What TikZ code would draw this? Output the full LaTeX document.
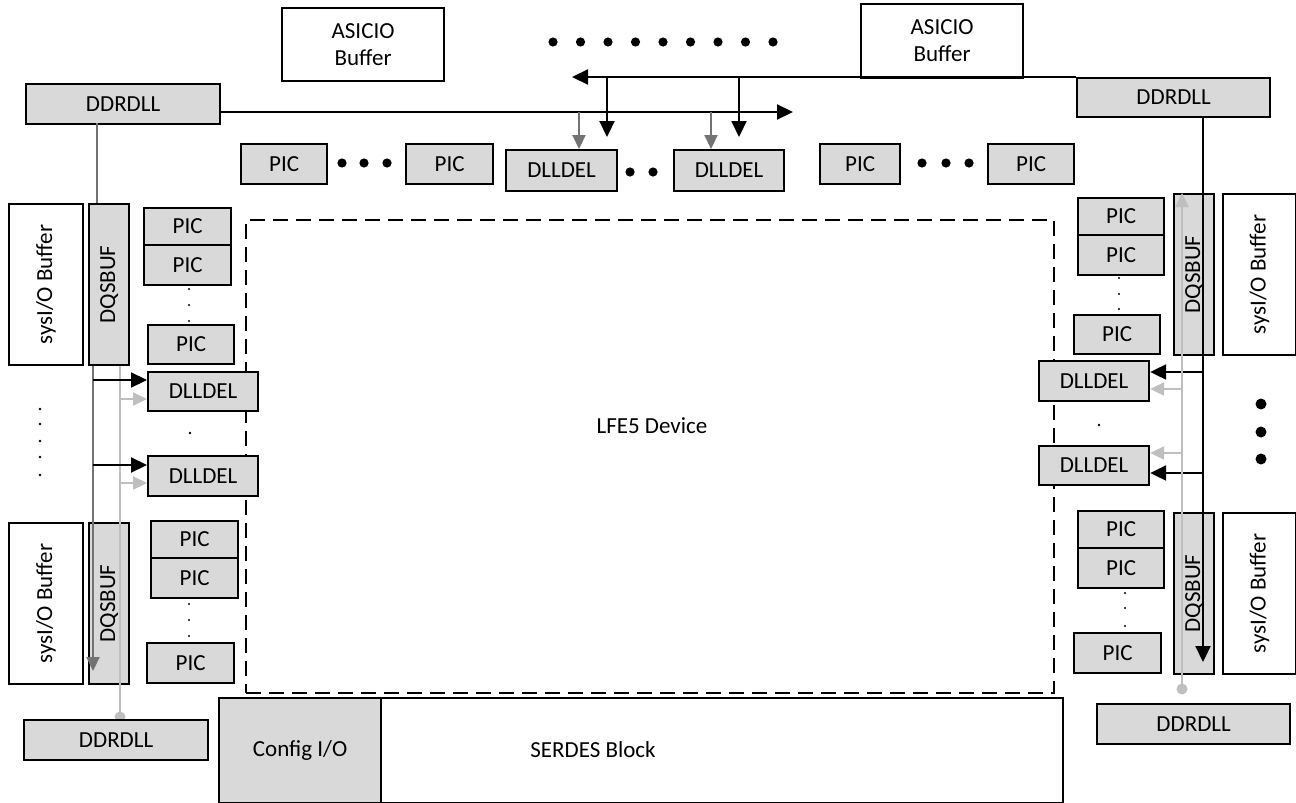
\documentclass[tikz,border=0pt]{standalone}
\usepackage{fontspec}
\setmainfont{Carlito}
\usepackage{graphicx}
\usetikzlibrary{arrows.meta,calc}
\definecolor{boxgray}{HTML}{D9D9D9}
\definecolor{dgray}{HTML}{737373}
\definecolor{lgray}{HTML}{BFBFBF}
\tikzset{
  base/.style={draw=black,line width=2.2pt,inner sep=0pt,anchor=north west,font=\fontsize{23}{27}\selectfont,align=center},
  gbox/.style={base,fill=boxgray},
  wbox/.style={base,fill=white},
  lbl/.style={inner sep=0pt,font=\fontsize{23}{27}\selectfont},
  blk/.style={line width=2.2pt,draw=black},
  blkarr/.style={blk,-{Triangle[length=16pt,width=15pt]}},
  dg/.style={line width=2.2pt,draw=dgray},
  dgarr/.style={dg,-{Triangle[length=14pt,width=13pt]}},
  lg/.style={line width=2.2pt,draw=lgray},
  lgarr/.style={lg,-{Triangle[length=14pt,width=13pt]}},
  dashbox/.style={draw=black,line width=2.2pt,dash pattern=on 15pt off 8pt,inner sep=0pt,anchor=north west},
}
\newcommand\bx[7]{\node[#1,minimum width={#4pt-#2pt},minimum height={#5pt-#3pt}] (#6) at (#2,#3) {#7};}
\begin{document}
\begin{tikzpicture}[x=1pt,y=-1pt]
\useasboundingbox[fill=white] (0,0) rectangle (1296,803);

% dashed device outline
\node[dashbox,minimum width=808pt,minimum height=473pt] (lfe) at (245,219) {};
\node[lbl] (lfeT) at (652,426) {LFE5 Device};

% light gray dot under lower-left DDRDLL
\coordinate (lgS) at (120,717);
\fill[lgray] (lgS) circle (5.5);

% top
\bx{wbox}{281}{7}{443}{80}{asicL}{ASICIO\\Buffer}
\bx{wbox}{860}{3}{1022}{77}{asicR}{ASICIO\\Buffer}
\bx{gbox}{25}{83}{219}{123}{ddrTL}{DDRDLL}
\bx{gbox}{1076}{77}{1269}{116}{ddrTR}{DDRDLL}
\bx{gbox}{240}{143}{326}{183}{picT1}{PIC}
\bx{gbox}{405}{143}{492}{183}{picT2}{PIC}
\bx{gbox}{505}{149}{616}{190}{dlT1}{DLLDEL}
\bx{gbox}{673}{149}{783}{190}{dlT2}{DLLDEL}
\bx{gbox}{819}{143}{899}{183}{picT3}{PIC}
\bx{gbox}{987}{143}{1073}{183}{picT4}{PIC}

% left column
\bx{wbox}{8}{203}{82}{364}{sysL1}{\rotatebox{90}{sysI/O Buffer}}
\bx{gbox}{88}{203}{128}{364}{dqsL1}{\rotatebox{90}{DQSBUF}}
\bx{gbox}{143}{207}{230}{244}{picL1}{PIC}
\bx{gbox}{143}{244}{230}{284}{picL2}{PIC}
\bx{gbox}{147}{324}{233}{363}{picL3}{PIC}
\bx{gbox}{147}{371}{257}{410}{dlL1}{DLLDEL}
\bx{gbox}{147}{455}{257}{495}{dlL2}{DLLDEL}
\bx{wbox}{8}{522}{82}{683}{sysL2}{\rotatebox{90}{sysI/O Buffer}}
\bx{gbox}{88}{522}{128}{683}{dqsL2}{\rotatebox{90}{DQSBUF}}
\bx{gbox}{150}{520}{237}{557}{picL4}{PIC}
\bx{gbox}{150}{557}{237}{597}{picL5}{PIC}
\bx{gbox}{146}{642}{233}{682}{picL6}{PIC}
\bx{gbox}{23}{719}{207}{759}{ddrBL}{DDRDLL}

% right column
\bx{gbox}{1077}{197}{1163}{234}{picR1}{PIC}
\bx{gbox}{1077}{234}{1163}{274}{picR2}{PIC}
\bx{gbox}{1073}{314}{1159}{353}{picR3}{PIC}
\bx{gbox}{1173}{193}{1213}{354}{dqsR1}{\rotatebox{90}{DQSBUF}}
\bx{wbox}{1222}{193}{1295}{354}{sysR1}{\rotatebox{90}{sysI/O Buffer}}
\bx{gbox}{1038}{360}{1148}{400}{dlR1}{DLLDEL}
\bx{gbox}{1038}{445}{1148}{484}{dlR2}{DLLDEL}
\bx{gbox}{1077}{510}{1163}{547}{picR4}{PIC}
\bx{gbox}{1077}{547}{1163}{587}{picR5}{PIC}
\bx{gbox}{1073}{632}{1160}{672}{picR6}{PIC}
\bx{gbox}{1173}{512}{1213}{673}{dqsR2}{\rotatebox{90}{DQSBUF}}
\bx{wbox}{1222}{512}{1295}{673}{sysR2}{\rotatebox{90}{sysI/O Buffer}}
\bx{gbox}{1096}{703}{1289}{743}{ddrBR}{DDRDLL}

% bottom
\bx{gbox}{218}{697}{380}{802}{cfg}{Config I/O}
\bx{wbox}{380}{697}{1062}{802}{serdes}{}
\node[lbl] (serdesT) at (593,750) {SERDES Block};

% top connectors
\coordinate (tR) at (793,112);
\draw[blkarr] (ddrTL.east |- tR) -- (tR);
\coordinate (tL) at (572,77);
\draw[blkarr] (ddrTR.north west) -- (tL);
\coordinate (b1) at (607,77);
\coordinate (b1e) at (607,137);
\coordinate (b2) at (739,77);
\coordinate (b2e) at (739,137);
\draw[blkarr] (b1) -- (b1e);
\draw[blkarr] (b2) -- (b2e);
\coordinate (g1) at (579,112);
\coordinate (g2) at (711,112);
\draw[dgarr] (g1) -- (g1 |- dlT1.north);
\draw[dgarr] (g2) -- (g2 |- dlT2.north);

% left connectors
\coordinate (ldA) at (97,123);
\draw[dg] (ldA) -- (ldA |- dqsL1.north);
\coordinate (ldE) at (93,671);
\draw[dgarr] (ldE |- dqsL1.south) -- (ldE);
\draw[lg] (lgS) -- (lgS |- dqsL1.south);
\coordinate (lb1) at (93,380);
\coordinate (lb2) at (93,465);
\draw[blkarr] (lb1) -- (lb1 -| dlL1.west);
\draw[blkarr] (lb2) -- (lb2 -| dlL2.west);
\coordinate (lg1) at (120,399);
\coordinate (lg2) at (120,483);
\draw[lgarr] (lg1) -- (lg1 -| dlL1.west);
\draw[lgarr] (lg2) -- (lg2 -| dlL2.west);

% right connectors
\coordinate (rbE) at (1203,662);
\draw[blkarr] (ddrTR.south -| rbE) -- (rbE);
\coordinate (rb1) at (1203,372);
\coordinate (rb2) at (1203,473);
\draw[blkarr] (rb1) -- (rb1 -| dlR1.east);
\draw[blkarr] (rb2) -- (rb2 -| dlR2.east);
\coordinate (rgS) at (1182,689);
\draw[lgarr] (rgS) -- (rgS |- dqsR1.north);
\fill[lgray] (rgS) circle (5.5);
\coordinate (rg1) at (1182,389);
\coordinate (rg2) at (1182,453);
\draw[lgarr] (rg1) -- (rg1 -| dlR1.east);
\draw[lgarr] (rg2) -- (rg2 -| dlR2.east);

% dots
\foreach \i in {0,...,8} \fill ({553+\i*27.5},42) circle (4.6);
\foreach \x in {342,364,387} \fill (\x,163) circle (4.6);
\foreach \x in {922,946,969} \fill (\x,163) circle (4.6);
\foreach \x in {630,653} \fill (\x,172) circle (4.6);
\foreach \y in {404,432,459} \fill (1261,\y) circle (5.5);
\foreach \y in {409,424,441,457,475} \fill (40,\y) circle (1.3);
\foreach \y in {289,305,321} \fill (189,\y) circle (1.1);
\foreach \y in {604,620,636} \fill (189,\y) circle (1.1);
\foreach \y in {278,294,309} \fill (1119,\y) circle (1.1);
\foreach \y in {593,608,626} \fill (1125,\y) circle (1.1);
\fill (190,433) circle (1.3);
\fill (1099,425) circle (1.3);
\end{tikzpicture}
\end{document}
